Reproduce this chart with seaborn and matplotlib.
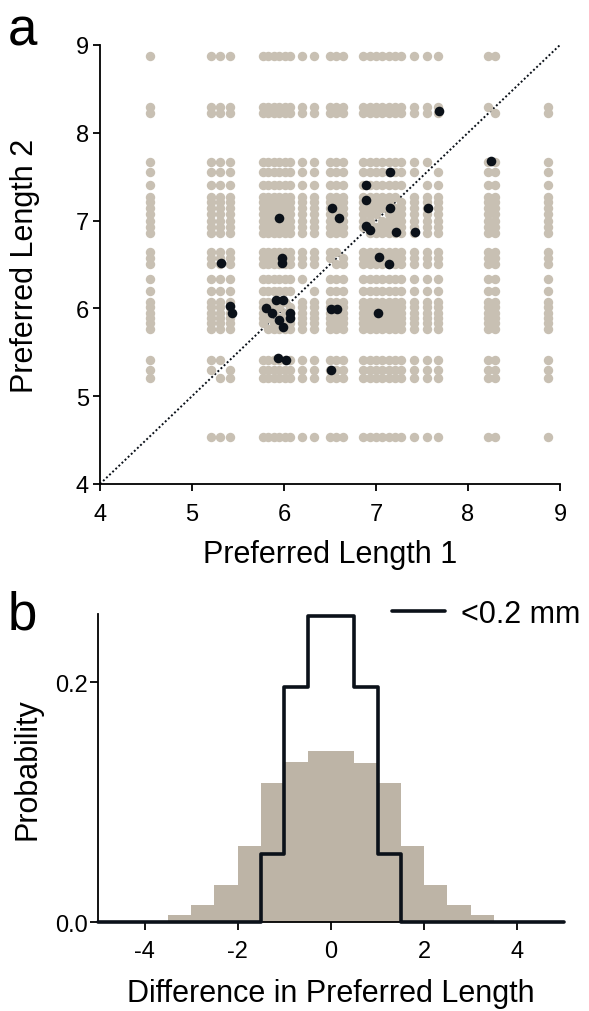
import matplotlib
matplotlib.use("Agg")
import matplotlib.pyplot as plt
from matplotlib.lines import Line2D
import numpy as np
import pandas as pd
import seaborn as sns

# ---------------- data ----------------
# preferred lengths of all recording sites (panel a: every ordered pair of distinct sites)
site_lengths = [4.54, 5.21, 5.30, 5.41, 5.77, 5.83, 5.89, 5.95, 6.01, 6.07,
                6.20, 6.33, 6.50, 6.57, 6.64, 6.86, 6.93, 7.00, 7.07, 7.14,
                7.21, 7.27, 7.41, 7.55, 7.67, 8.22, 8.29, 8.87]

# pairs closer than 0.2 mm (black dots)
near_len1 = [7.68, 8.25, 7.15, 6.89, 6.89, 7.15, 7.56, 5.95, 6.52, 6.60,
             6.89, 6.94, 7.22, 7.42, 5.31, 5.98, 5.98, 7.03, 7.14, 5.41,
             5.43, 5.91, 5.99, 5.80, 5.87, 5.95, 5.99, 6.07, 6.07, 6.51,
             6.58, 7.02, 5.93, 6.02, 6.51]
near_len2 = [8.25, 7.68, 7.55, 7.41, 7.23, 7.14, 7.14, 7.03, 7.14, 7.03,
             6.94, 6.89, 6.87, 6.87, 6.52, 6.57, 6.52, 6.59, 6.51, 6.03,
             5.95, 6.09, 6.09, 6.00, 5.95, 5.87, 5.79, 5.95, 5.89, 5.99,
             5.99, 5.95, 5.43, 5.41, 5.30]

# panel b histogram (bin edges and probabilities per bin)
bin_edges = [-5.0, -4.5, -4.0, -3.5, -3.0, -2.5, -2.0, -1.5, -1.0, -0.5, 0.0,
             0.5, 1.0, 1.5, 2.0, 2.5, 3.0, 3.5, 4.0, 4.5, 5.0]
all_pairs_prob = [0.0, 0.0, 0.001, 0.006, 0.0146, 0.031, 0.064, 0.116, 0.1335, 0.1427,
                  0.1427, 0.133, 0.116, 0.0637, 0.031, 0.0146, 0.006, 0.001, 0.0, 0.0]
near_pairs_prob = [0.0, 0.0, 0.0, 0.0, 0.0, 0.0, 0.0, 0.057, 0.196, 0.2555,
                   0.2555, 0.196, 0.057, 0.0, 0.0, 0.0, 0.0, 0.0, 0.0, 0.0]

# ---------------- style ----------------
sns.set_style("ticks")
plt.rcParams["font.family"] = ["Liberation Sans", "DejaVu Sans"]
for key in ["text.color", "axes.labelcolor", "xtick.color", "ytick.color", "axes.edgecolor"]:
    plt.rcParams[key] = "black"
GREY_DOT = "#c8c0b3"
GREY_BAR = "#bdb4a6"
INK = "#0b1119"

fig = plt.figure(figsize=(5.89, 10.12), dpi=100)

# ---------------- panel a ----------------
ax_a = fig.add_axes([0.1698, 0.5208, 0.781, 0.4338])
pairs = [(a, b) for i, a in enumerate(site_lengths)
         for j, b in enumerate(site_lengths) if i != j]
grey_df = pd.DataFrame(pairs, columns=["len1", "len2"])
near_df = pd.DataFrame({"len1": near_len1, "len2": near_len2})

ax_a.axline((4, 4), slope=1, color=INK, lw=1.4, linestyle=(0, (1, 1.2)), zorder=1)
sns.scatterplot(data=grey_df, x="len1", y="len2", color=GREY_DOT, s=46,
                linewidth=0, ax=ax_a, zorder=2)
sns.scatterplot(data=near_df, x="len1", y="len2", color=INK, s=48,
                linewidth=0, ax=ax_a, zorder=3)
ax_a.set_xlim(4, 9)
ax_a.set_ylim(4, 9)
ax_a.set_xticks([4, 5, 6, 7, 8, 9])
ax_a.set_yticks([4, 5, 6, 7, 8, 9])
ax_a.set_xlabel("Preferred Length 1", fontsize=22)
ax_a.set_ylabel("Preferred Length 2", fontsize=22)
ax_a.xaxis.set_label_coords(0.5, -0.125)
ax_a.yaxis.set_label_coords(-0.13, 0.5)
ax_a.tick_params(axis="both", direction="out", length=5, width=1.3,
                 labelsize=17, color="black")
ax_a.tick_params(axis="x", pad=9)
ax_a.tick_params(axis="y", pad=3)
sns.despine(ax=ax_a)
for s in ["left", "bottom"]:
    ax_a.spines[s].set_linewidth(1.3)

# ---------------- panel b ----------------
ax_b = fig.add_axes([0.1664, 0.0876, 0.791, 0.3047])
centers = [(bin_edges[k] + bin_edges[k + 1]) / 2 for k in range(len(bin_edges) - 1)]
sns.histplot(x=centers, weights=all_pairs_prob, bins=bin_edges, stat="count",
             color=GREY_BAR, alpha=1, linewidth=0, edgecolor="none", ax=ax_b)
sns.histplot(x=centers, weights=near_pairs_prob, bins=bin_edges, stat="count",
             element="step", fill=False, color=INK, linewidth=2.6, ax=ax_b)
for ln in ax_b.lines:
    ln.set_clip_on(False)
    ln.set_zorder(4)
ax_b.set_xlim(-5, 5)
ax_b.set_ylim(0, 0.257)
ax_b.set_xticks([-4, -2, 0, 2, 4])
ax_b.set_xticklabels(["-4", "-2", "0", "2", "4"])
ax_b.set_yticks([0.0, 0.2])
ax_b.set_yticklabels(["0.0", "0.2"])
ax_b.set_xlabel("Difference in Preferred Length", fontsize=22)
ax_b.set_ylabel("Probability", fontsize=22)
ax_b.xaxis.set_label_coords(0.5, -0.18)
ax_b.yaxis.set_label_coords(-0.12, 0.5)
ax_b.tick_params(axis="both", direction="out", length=6, width=1.3,
                 labelsize=17, color="black")
ax_b.tick_params(axis="x", pad=7)
ax_b.tick_params(axis="y", pad=1)
sns.despine(ax=ax_b)
for s in ["left", "bottom"]:
    ax_b.spines[s].set_linewidth(1.3)

handle = Line2D([0], [0], color=INK, lw=2.6)
fig.legend([handle], ["<0.2 mm"], loc="center left",
           bbox_to_anchor=(392 / 589, 1 - 615 / 1012), frameon=False,
           fontsize=22, handlelength=1.75, handletextpad=0.5,
           borderpad=0, borderaxespad=0)

# panel letters
fig.text(8 / 589, 1 - 46 / 1012, "a", fontsize=38, ha="left", va="baseline")
fig.text(8 / 589, 1 - 630 / 1012, "b", fontsize=38, ha="left", va="baseline")

fig.savefig("out.png", dpi=100)
